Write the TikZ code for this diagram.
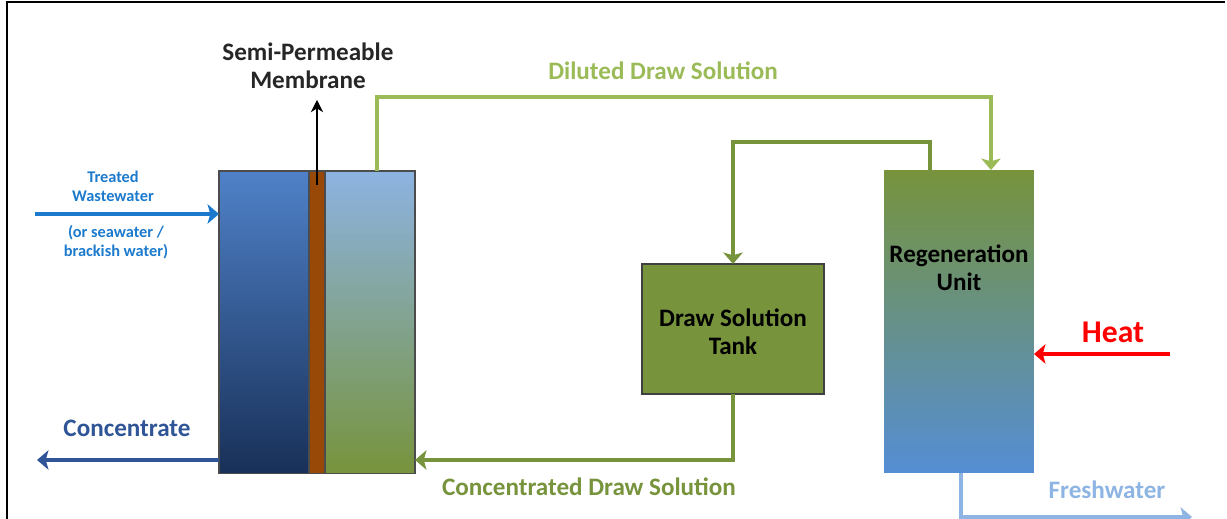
\documentclass[tikz,border=0pt]{standalone}
\usepackage{fontspec}
\setmainfont{Carlito}
\usetikzlibrary{arrows.meta}

\definecolor{feedtop}{RGB}{79,129,200}
\definecolor{feedbot}{RGB}{24,48,88}
\definecolor{drawtop}{RGB}{141,179,226}
\definecolor{drawbot}{RGB}{119,147,60}
\definecolor{regentop}{RGB}{119,147,60}
\definecolor{regenbot}{RGB}{85,142,213}
\definecolor{membbrown}{RGB}{152,72,7}
\definecolor{tankgreen}{RGB}{119,147,60}
\definecolor{dilgreen}{RGB}{155,187,89}
\definecolor{concgreen}{RGB}{119,147,60}
\definecolor{feedblue}{RGB}{28,122,205}
\definecolor{concblue}{RGB}{47,85,151}
\definecolor{freshblue}{RGB}{141,180,226}
\definecolor{heatred}{RGB}{255,0,0}

\tikzset{
	unit/.style={inner sep=0pt, outer sep=0pt, draw=black!70, line width=0.6pt},
	flow/.style={line width=2pt, -{Stealth[length=6.5pt, width=11pt, inset=1.5pt]}},
	lbl/.style={font=\bfseries\fontsize{14.3}{16}\selectfont, align=center, inner sep=0pt},
	smalllbl/.style={font=\bfseries\fontsize{9.3}{10.8}\selectfont, align=center, inner sep=0pt, text=feedblue}
}

\begin{document}
\begin{tikzpicture}[x=0.02cm, y=-0.02cm]

	\useasboundingbox (0,0) rectangle (1227,519);
	\draw[line width=1.2pt] (1225,2) -- (7,2) -- (7,519);

	% forward osmosis cell
	\node[unit, top color=feedtop, bottom color=feedbot, minimum width=1.8cm, minimum height=6.06cm] (feed) at (264,322.5) {};
	\node[unit, fill=membbrown, minimum width=0.32cm, minimum height=6.06cm] (memb) at (317,322.5) {};
	\node[unit, top color=drawtop, bottom color=drawbot, minimum width=1.8cm, minimum height=6.06cm] (drawside) at (370,322.5) {};

	% draw solution loop
	\node[unit, fill=tankgreen, draw=black!75, minimum width=3.64cm, minimum height=2.6cm] (tank) at (733,329) {};
	\node[inner sep=0pt, outer sep=0pt, top color=regentop, bottom color=regenbot, minimum width=3.0cm, minimum height=6.06cm] (regen) at (959,321.5) {};

	\node[lbl] (tanktxt) at (733,332) {Draw Solution\\Tank};
	\node[lbl] (regentxt) at (959,268) {Regeneration\\Unit};

	\coordinate (feedin) at (35,214);
	\coordinate (concout) at (37,460);
	\coordinate (memtip) at (317,100);
	\coordinate (dil) at (663,97);
	\coordinate (ret) at (830,142);
	\coordinate (conc) at (589,460);
	\coordinate (heatin) at (1170,354);
	\coordinate (freshout) at (1192,517);

	\draw[flow, feedblue] (feedin) -- (feedin -| feed.west);
	\draw[flow, concblue] (concout -| feed.west) -- (concout);
	\draw[line width=0.7pt, -{Stealth[length=7pt, width=7pt]}] ([yshift=-0.28cm]memb.north) -- (memtip);

	\draw[flow, dilgreen] ([xshift=0.14cm]drawside.north) |- (dil) -| ([xshift=0.64cm]regen.north);
	\draw[flow, concgreen] ([xshift=-0.58cm]regen.north) |- (ret) -| (tank.north);
	\draw[flow, concgreen] (tank.south) |- (conc) -- (conc -| drawside.east);
	\draw[flow, heatred, line width=2.6pt] (heatin) -- (heatin -| regen.east);
	\draw[flow, freshblue] ([xshift=0.04cm]regen.south) |- (freshout);

	% labels
	\node[lbl, text=black!85] (membtxt) at (308,66) {Semi-Permeable\\Membrane};
	\node[smalllbl] (treated) at (113,186) {Treated\\Wastewater};
	\node[smalllbl] (orsea) at (116,242) {(or seawater /\\brackish water)};
	\node[lbl, text=concblue] (conctxt) at (127,428) {Concentrate};
	\node[lbl, text=dilgreen] (diltxt) at (663,71) {Diluted Draw Solution};
	\node[lbl, text=concgreen] (concdraw) at (589,487) {Concentrated Draw Solution};
	\node[lbl, text=heatred, font=\bfseries\fontsize{18}{20}\selectfont] (heattxt) at (1113,332) {Heat};
	\node[lbl, text=freshblue] (freshtxt) at (1107,490) {Freshwater};

\end{tikzpicture}
\end{document}
